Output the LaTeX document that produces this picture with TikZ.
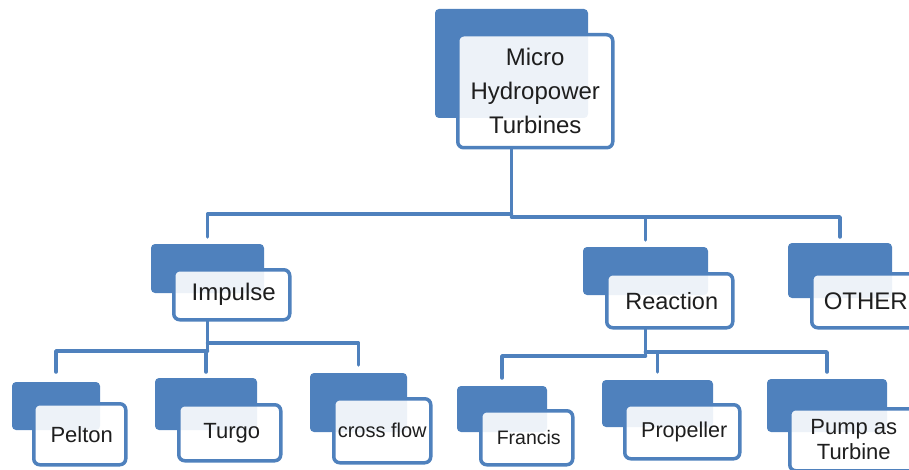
\documentclass[tikz,border=0pt]{standalone}
\usepackage{fontspec}
\setmainfont{Liberation Sans}
\definecolor{hblue}{HTML}{4F81BD}
\definecolor{htext}{HTML}{1E1E1E}
\tikzset{
  backbox/.style={fill=hblue, rounded corners=4pt, inner sep=0pt, outer sep=0pt, anchor=north west},
  frontbox/.style={draw=hblue, line width=3.5pt, fill=white, fill opacity=0.9, text opacity=1,
    rounded corners=6pt, anchor=north west, align=center, inner sep=0pt, text=htext},
  conn/.style={draw=hblue, line width=3.5pt, line cap=round, line join=round},
  fs/.style={font=\fontsize{#1}{#1}\selectfont}
}
\begin{document}
\begin{tikzpicture}[x=1pt,y=-1pt]
\clip (0,0) rectangle (909,470);
% level 0
\node[backbox, minimum width=153pt, minimum height=109pt] (topB) at (435,9) {};
\node[frontbox, minimum width=155pt, minimum height=113pt, font=\fontsize{24}{34}\selectfont] (topF) at (456,33) {Micro\\Hydropower\\Turbines};
% level 1
\node[backbox, minimum width=113pt, minimum height=49pt] (impB) at (151,244) {};
\node[frontbox, minimum width=116pt, minimum height=50pt, fs=24] (impF) at (172,268) {\hspace*{4pt}Impulse};
\node[backbox, minimum width=125pt, minimum height=48pt] (reaB) at (583,247) {};
\node[frontbox, minimum width=126pt, minimum height=54pt, fs=23.5] (reaF) at (605,272) {\hspace*{4pt}Reaction};
\node[backbox, minimum width=104pt, minimum height=55pt] (othB) at (788,243) {};
\node[frontbox, minimum width=108pt, minimum height=54pt, fs=24] (othF) at (810,272) {OTHER};
% level 2
\node[backbox, minimum width=88pt, minimum height=48pt] (pelB) at (12,382) {};
\node[frontbox, minimum width=92pt, minimum height=61pt, fs=22] (pelF) at (32,402) {\hspace*{4pt}Pelton};
\node[backbox, minimum width=102pt, minimum height=52pt] (turB) at (155,378) {};
\node[frontbox, minimum width=102pt, minimum height=56pt, fs=22] (turF) at (177,403) {\hspace*{4pt}Turgo};
\node[backbox, minimum width=97pt, minimum height=59pt] (croB) at (310,373) {};
\node[frontbox, minimum width=97pt, minimum height=64pt, fs=20] (croF) at (332,397) {cross flow};
\node[backbox, minimum width=90pt, minimum height=46pt] (fraB) at (457,386) {};
\node[frontbox, minimum width=92pt, minimum height=54pt, fs=19.5] (fraF) at (479,409) {\hspace*{4pt}Francis};
\node[backbox, minimum width=111pt, minimum height=47pt] (proB) at (602,380) {};
\node[frontbox, minimum width=115pt, minimum height=54pt, fs=21.5] (proF) at (623,403) {\hspace*{4pt}Propeller};
\node[backbox, minimum width=120pt, minimum height=53pt] (pumB) at (767,379) {};
\node[frontbox, minimum width=128pt, minimum height=62pt, font=\fontsize{22}{25}\selectfont] (pumF) at (788,407) {Pump as\\Turbine};
% bus levels
\coordinate (busA1) at (0,214);
\coordinate (busA2) at (0,217);
\coordinate (busB1) at (0,351);
\coordinate (busB2) at (0,343);
\coordinate (busC1) at (0,356);
\coordinate (busC2) at (0,352);
% connectors level 0 -> 1
\draw[conn] (topB.center |- topF.south) -- (topB.center |- busA2);
\draw[conn, shorten >=7pt] (topB.center |- busA1) -| (impB.north);
\draw[conn, shorten >=6pt] (topB.center |- busA2) -| (othB.north);
\draw[conn, shorten >=7pt] (reaB.center |- busA2) -- (reaB.north);
% connectors Impulse
\draw[conn] (impB.center |- impF.south) -- (impB.center |- busB1);
\draw[conn, shorten >=10pt] (impB.center |- busB1) -| (pelB.north);
\draw[conn, shorten >=6pt] (turB.center |- busB1) -- (turB.north);
\draw[conn, shorten >=8pt] (impB.center |- busB2) -| (croB.north);
% connectors Reaction
\draw[conn] (reaB.center |- reaF.south) -- (reaB.center |- busC1);
\draw[conn, shorten >=8pt] (reaB.center |- busC1) -| (fraB.north);
\draw[conn, shorten >=8pt] (reaB.center |- busC2) -| (proB.north);
\draw[conn, shorten >=7pt] (reaB.center |- busC2) -| (pumB.north);
\end{tikzpicture}
\end{document}
